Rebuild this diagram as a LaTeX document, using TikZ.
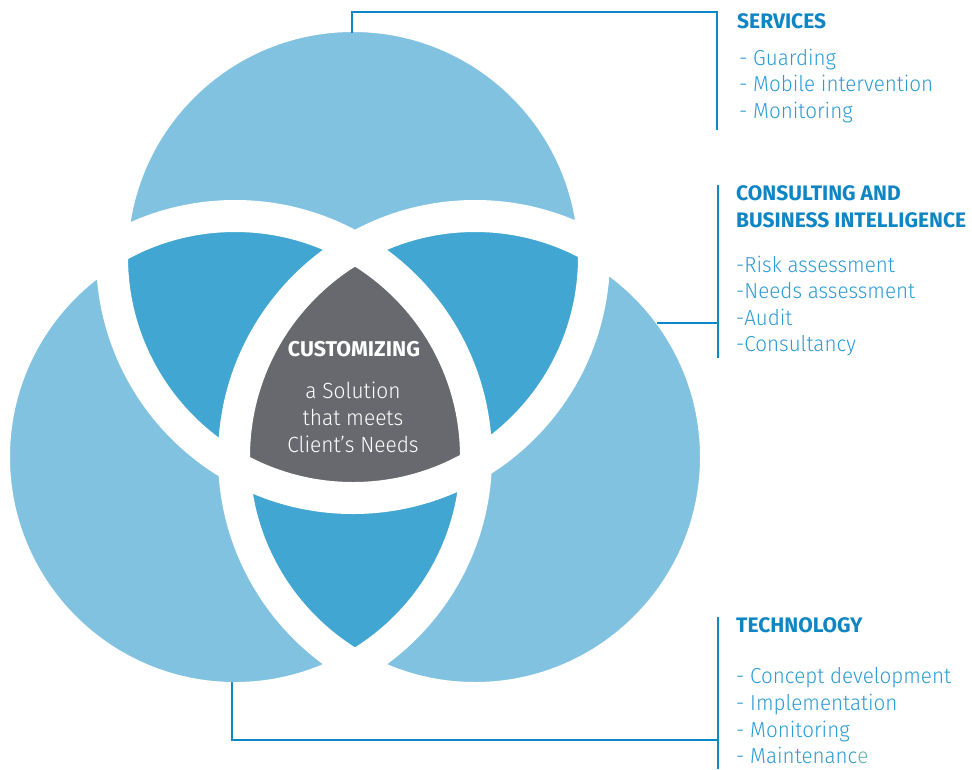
\documentclass[tikz,border=0pt]{standalone}
\usepackage{fontspec}
\setmainfont{Fira Sans}
\newfontfamily\lightf{Fira Sans Light}[FakeStretch=0.95]
\newfontfamily\boldf{Fira Sans Bold}
\definecolor{lblue}{HTML}{81C2E0}
\definecolor{dblue}{HTML}{41A6D1}
\definecolor{cgray}{HTML}{67696E}
\definecolor{linec}{HTML}{0A89C6}
\definecolor{titlec}{HTML}{0F85C3}
\definecolor{itemc}{HTML}{2C9BD4}
\definecolor{tealc}{HTML}{5DB8A6}
\tikzset{
  bracket/.style={draw=linec, line width=2.5pt},
  ttl/.style={anchor=base west, inner sep=0pt, text=titlec, font=\boldf\fontsize{21}{24}\selectfont},
  itm/.style={anchor=base west, inner sep=0pt, text=itemc, font=\lightf\fontsize{21.7}{26}\selectfont},
  ctitle/.style={anchor=base, inner sep=0pt, text=white, font=\boldf\fontsize{21.4}{24}\selectfont},
  ctext/.style={anchor=base, inner sep=0pt, text=white, font=\lightf\fontsize{22}{26}\selectfont},
  ring/.style={draw=white, line width=32pt}
}
\begin{document}
\begin{tikzpicture}[x=1pt,y=-1pt]
\useasboundingbox (0,0) rectangle (972,769);
\def\R{241}
\coordinate (T) at (353,257);
\coordinate (L) at (235,457);
\coordinate (Rc) at (475,457);
% base fills
\fill[lblue] (T) circle (\R) (L) circle (\R) (Rc) circle (\R);
% pairwise intersections
\begin{scope}\clip (T) circle (\R); \fill[dblue] (L) circle (\R); \fill[dblue] (Rc) circle (\R);\end{scope}
\begin{scope}\clip (L) circle (\R); \fill[dblue] (Rc) circle (\R);\end{scope}
% triple
\begin{scope}\clip (T) circle (\R); \clip (L) circle (\R); \fill[cgray] (Rc) circle (\R);\end{scope}
% white rings
\draw[ring] (T) circle (\R) (L) circle (\R) (Rc) circle (\R);
% center text
\node[ctitle] (cust) at (354,356) {CUSTOMIZING};
\node[ctext] (c1) at (353,398) {a Solution};
\node[ctext] (c2) at (353,425) {that meets};
\node[ctext] (c3) at (353,452) {Client’s Needs};
% brackets
\coordinate (topc) at (352,33);
\coordinate (s1) at (717,12);
\coordinate (s2) at (717,130);
\draw[bracket] (topc) |- (s1) -- (s2);
\coordinate (k1) at (718,185);
\coordinate (k2) at (718,358);
\coordinate (rc) at (657,323);
\coordinate (k3) at (718,323);
\draw[bracket] (k1) -- (k2);
\draw[bracket] (rc) -- (k3);
\coordinate (lc) at (232,682);
\coordinate (t1) at (718,617);
\coordinate (t2) at (718,769);
\coordinate (t3) at (718,740);
\draw[bracket] (t1) -- (t2);
\draw[bracket] (lc) |- (t3);
% texts
\node[ttl] (svc) at (737,28) {SERVICES};
\node[itm] (sv1) at (739,65) {- Guarding};
\node[itm] (sv2) at (739,91.5) {- Mobile intervention};
\node[itm] (sv3) at (739,118) {- Monitoring};
\node[ttl] (con1) at (736,200) {CONSULTING AND};
\node[ttl] (con2) at (736,227) {BUSINESS INTELLIGENCE};
\node[itm] (cn1) at (736,272) {-Risk assessment};
\node[itm] (cn2) at (736,298.5) {-Needs assessment};
\node[itm] (cn3) at (736,325) {-Audit};
\node[itm] (cn4) at (736,351.5) {-Consultancy};
\node[ttl] (tec) at (736,632) {TECHNOLOGY};
\node[itm] (te1) at (736,683) {- Concept development};
\node[itm] (te2) at (736,710) {- Implementation};
\node[itm] (te3) at (736,737) {- Monitoring};
\node[itm] (te4) at (736,763) {- Maintenanc\textcolor{tealc}{e}};
\end{tikzpicture}
\end{document}
